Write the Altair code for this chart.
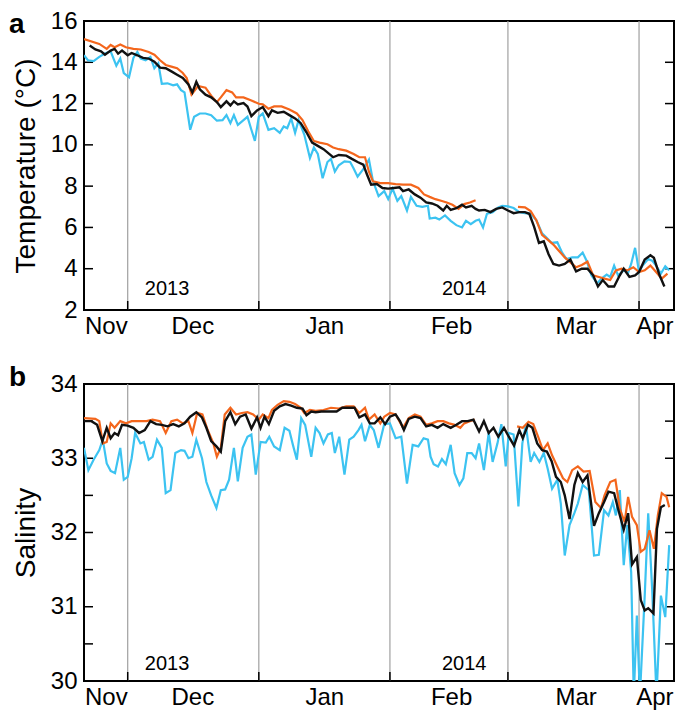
import altair as alt
import pandas as pd

# ---------------- data (x = day index of the record, months as drawn) ----------------
MONTH_NAMES = ["Nov", "Dec", "Jan", "Feb", "Mar", "Apr"]
MONTH_BOUNDS = [10, 40, 70, 97, 127]
MONTH_CENTERS = [5, 24.8, 55, 84, 112.5, 130.5]
X_DOMAIN = [0, 135]
YEAR_TEXT = ["2013", "2014"]
YEAR_X = [19, 87]

TEMP_LABELS = [2, 4, 6, 8, 10, 12, 14, 16]
TEMP_TICKS = [4, 6, 8, 10, 12, 14]
SAL_LABELS = [30, 31, 32, 33, 34]
SAL_TICKS = [30.5, 31, 31.5, 32, 32.5, 33, 33.5]

# Temperature, cyan series
temp_cyan_day = [0.0, 0.9, 2.2, 3.5, 4.8, 6.1, 7.4, 8.3, 9.1, 10.3,
                 11.3, 12.2, 13.0, 14.1, 15.2, 16.1, 17.0, 17.8, 19.1, 20.4,
                 21.3, 22.2, 23.0, 24.3, 25.2, 26.5, 27.8, 29.1, 30.4, 31.7,
                 32.6, 33.5, 34.3, 35.2, 36.5, 37.4, 38.3, 39.1, 40.0, 40.9,
                 42.2, 43.5, 44.8, 45.7, 46.5, 47.4, 48.3, 49.1, 50.4, 51.7,
                 52.6, 53.5, 54.6, 55.7, 56.5, 57.4, 58.3, 59.6, 60.9, 61.7,
                 62.6, 63.9, 65.2, 66.1, 67.4, 68.7, 69.6, 70.6, 71.7, 72.6,
                 73.9, 74.8, 76.1, 77.4, 78.7, 79.1, 80.4, 81.3, 82.6, 83.9,
                 85.2, 86.5, 87.4, 88.5, 89.6, 90.4, 91.3, 92.2, 93.5, 94.8,
                 95.7, 97.0, 98.3, 99.6, 100.9, 102.2, 103.5, 104.8, 105.7, 107.0,
                 108.3, 109.4, 110.4, 111.7, 113.0, 114.1, 115.0, 116.1, 117.4, 118.4,
                 119.6, 120.4, 121.3, 122.2, 123.5, 124.5, 125.2, 126.1, 127.0, 127.8,
                 129.1, 130.0, 130.9, 132.0, 133.0, 133.9]
temp_cyan_val = [14.34, 14.10, 14.06, 14.26, 14.42, 14.53, 13.84, 14.18, 13.48, 13.27,
                 14.21, 14.50, 14.18, 14.10, 14.26, 13.71, 13.95, 12.96, 12.98, 12.88,
                 12.93, 12.65, 12.54, 10.73, 11.36, 11.52, 11.52, 11.44, 11.17, 11.20,
                 11.44, 11.05, 11.44, 10.97, 11.20, 11.36, 10.73, 10.19, 11.36, 11.52,
                 10.73, 10.81, 10.58, 10.89, 10.81, 11.28, 10.58, 11.20, 10.50, 9.36,
                 9.87, 9.56, 8.38, 9.17, 9.32, 8.70, 9.01, 9.20, 9.17, 8.85,
                 8.46, 8.82, 9.29, 8.26, 7.52, 7.76, 7.37, 7.88, 7.29, 7.52,
                 6.82, 7.48, 7.05, 7.00, 7.05, 6.43, 6.47, 6.38, 6.58, 6.32,
                 6.11, 6.00, 6.32, 6.16, 6.32, 6.38, 6.00, 6.66, 6.74, 6.97,
                 7.05, 7.02, 6.94, 6.74, 6.69, 6.66, 6.35, 5.72, 5.53, 5.25,
                 5.28, 4.78, 4.47, 4.55, 4.55, 4.78, 4.39, 3.68, 3.29, 3.52,
                 3.71, 3.60, 4.15, 3.68, 3.92, 3.81, 4.23, 5.01, 3.84, 4.15,
                 4.47, 4.39, 4.15, 3.76, 4.12, 3.92]

# Temperature, orange series (None = gap in record)
temp_orange_day = [0.0, 3.5, 5.2, 6.1, 7.0, 8.3, 9.6, 11.3, 13.0, 14.8,
                   16.1, 17.4, 18.7, 20.0, 21.3, 22.6, 23.5, 24.6, 26.1, 27.8,
                   29.1, 30.4, 31.3, 32.6, 33.9, 34.8, 36.5, 38.3, 40.0, 40.9,
                   42.2, 43.5, 45.2, 47.0, 48.7, 50.0, 51.3, 52.6, 53.9, 55.7,
                   57.0, 58.3, 60.0, 61.7, 63.0, 64.3, 65.2, 66.1, 67.8, 69.6,
                   71.3, 73.0, 74.8, 76.5, 77.8, 79.1, 80.4, 81.7, 83.0, 84.3,
                   85.7, 87.0, 88.3, 89.6, None, 99.3, 100.9, 102.2, 103.5, 104.8,
                   106.1, 107.4, 108.7, 110.0, 111.3, 112.6, 113.9, 115.2, 116.5, 117.8,
                   119.1, 120.4, 121.7, 123.0, 124.3, 125.7, 127.0, 128.3, 129.6, 130.9,
                   132.2, 133.5]
temp_orange_val = [15.12, 14.89, 14.65, 14.84, 14.73, 14.86, 14.73, 14.65, 14.62, 14.50,
                   14.37, 14.10, 13.87, 13.79, 13.71, 13.48, 13.24, 12.43, 12.85, 12.77,
                   12.38, 12.07, 12.30, 12.65, 12.54, 12.30, 12.30, 12.15, 11.99, 11.96,
                   11.75, 11.86, 11.86, 11.71, 11.52, 11.20, 10.66, 10.19, 10.11, 10.03,
                   9.87, 9.79, 9.72, 9.56, 9.40, 9.40, 8.70, 8.23, 8.15, 8.15,
                   8.10, 8.07, 8.07, 7.91, 7.60, 7.48, 7.37, 7.29, 7.21, 7.10,
                   6.90, 7.13, 7.21, 7.32, None, 7.00, 6.97, 6.79, 6.35, 5.64,
                   5.41, 5.17, 4.86, 4.55, 4.31, 4.07, 4.18, 4.34, 3.68, 3.60,
                   3.52, 3.45, 3.92, 4.00, 3.92, 4.07, 3.84, 3.92, 4.15, 3.84,
                   3.52, 3.76]

# Temperature, black series
temp_black_day = [1.3, 2.6, 3.9, 4.8, 6.1, 7.0, 7.8, 8.7, 10.0, 10.9,
                  12.2, 13.5, 14.8, 16.1, 17.4, 18.7, 20.0, 21.3, 22.6, 23.9,
                  24.8, 25.7, 26.5, 27.8, 29.1, 30.4, 31.3, 32.6, 33.5, 34.3,
                  35.2, 36.5, 37.4, 38.3, 39.6, 40.9, 42.2, 43.0, 44.3, 45.7,
                  47.0, 48.3, 49.6, 50.9, 52.2, 53.5, 54.8, 56.1, 57.0, 58.3,
                  60.0, 61.3, 62.6, 63.9, 64.8, 65.7, 67.0, 68.3, 69.6, 70.9,
                  72.2, 73.0, 74.3, 75.7, 77.0, 78.3, 79.6, 80.9, 82.2, 83.0,
                  83.9, 85.2, 86.5, 87.4, 88.7, 89.6, 90.4, 91.7, 93.0, 94.3,
                  95.7, 97.0, 98.3, 99.6, 100.9, 101.9, 103.0, 104.1, 105.2, 106.3,
                  107.4, 108.7, 110.0, 111.3, 112.6, 113.9, 115.2, 116.5, 117.6, 118.7,
                  120.0, 121.3, 122.6, 123.5, 124.8, 126.1, 127.0, 128.3, 129.6, 130.4,
                  131.7, 132.8]
temp_black_val = [14.81, 14.62, 14.53, 14.37, 14.57, 14.65, 14.42, 14.57, 14.34, 14.45,
                  14.34, 14.21, 14.18, 14.03, 13.74, 13.71, 13.56, 13.40, 13.24, 12.93,
                  12.54, 13.05, 12.69, 12.43, 12.30, 12.07, 11.83, 12.11, 11.91, 12.11,
                  11.96, 12.02, 11.86, 11.39, 11.67, 11.83, 11.39, 11.67, 11.55, 11.60,
                  11.44, 11.28, 11.05, 10.61, 10.11, 9.95, 9.79, 9.56, 9.40, 9.51,
                  9.48, 9.32, 9.17, 9.04, 8.54, 8.07, 8.10, 7.91, 7.88, 7.91,
                  7.94, 7.76, 7.84, 7.60, 7.44, 7.21, 7.16, 7.05, 6.82, 7.05,
                  6.85, 6.93, 7.10, 6.97, 7.05, 6.90, 6.82, 6.85, 6.74, 6.90,
                  6.97, 6.82, 6.69, 6.74, 6.74, 6.66, 6.03, 5.25, 5.33, 4.70,
                  4.23, 4.15, 4.23, 4.44, 3.87, 4.00, 4.00, 3.68, 3.14, 3.45,
                  3.14, 3.14, 3.68, 4.00, 3.60, 3.68, 3.84, 4.45, 4.65, 4.53,
                  3.68, 3.14]

# Salinity, cyan series
sal_cyan_day = [0.0, 1.0, 2.2, 3.5, 4.3, 5.2, 6.1, 7.1, 8.3, 9.1,
                10.0, 10.9, 11.7, 12.9, 13.7, 14.8, 15.7, 16.7, 17.8, 18.7,
                19.8, 20.9, 22.2, 23.0, 23.9, 24.8, 25.7, 27.0, 28.0, 29.1,
                30.3, 31.3, 32.3, 33.2, 34.3, 35.2, 36.3, 37.4, 38.3, 39.3,
                40.4, 41.6, 42.4, 43.5, 44.8, 45.9, 47.0, 47.8, 48.7, 49.7,
                50.6, 52.0, 53.0, 53.9, 54.8, 55.8, 56.7, 57.4, 58.4, 59.6,
                60.7, 61.7, 62.8, 63.5, 64.3, 65.4, 66.3, 67.4, 68.7, 70.0,
                71.3, 72.6, 73.9, 75.2, 76.5, 77.7, 78.7, 79.3, 80.0, 81.0,
                81.9, 82.8, 83.9, 84.8, 85.9, 86.8, 87.7, 88.7, 89.6, 90.4,
                91.5, 92.6, 93.5, 94.6, 95.5, 96.5, 97.2, 98.3, 99.4, 100.3,
                101.1, 102.2, 103.0, 104.2, 105.2, 106.1, 107.1, 108.3, 109.1, 110.0,
                111.1, 112.2, 113.0, 114.1, 115.5, 116.7, 117.8, 119.0, 120.0, 121.0,
                121.7, 122.6, 123.5, 124.3, 125.2, 125.8, 126.5, 127.2, 128.3, 129.1,
                130.0, 131.0, 132.0, 133.0, 133.9]
sal_cyan_val = [33.14, 32.84, 32.98, 33.11, 33.25, 32.93, 32.83, 32.80, 33.14, 32.71,
                32.75, 33.00, 33.34, 33.20, 33.22, 32.98, 33.02, 33.25, 33.14, 32.53,
                32.57, 33.07, 33.11, 33.10, 33.00, 33.02, 33.25, 33.00, 32.68, 32.50,
                32.33, 32.57, 32.58, 32.71, 33.14, 32.69, 33.14, 33.29, 33.32, 32.78,
                33.22, 33.21, 33.29, 33.16, 33.11, 33.41, 33.37, 33.18, 32.98, 33.54,
                33.45, 33.02, 33.41, 33.34, 33.20, 33.32, 33.34, 33.07, 33.29, 32.78,
                33.25, 33.29, 33.38, 33.45, 33.23, 33.45, 33.38, 33.14, 33.46, 33.47,
                33.27, 33.29, 32.66, 33.18, 33.16, 33.27, 33.25, 33.02, 32.92, 32.89,
                32.99, 32.92, 33.18, 32.80, 32.64, 32.73, 33.07, 33.07, 33.00, 33.20,
                32.84, 33.34, 32.95, 33.20, 33.46, 32.89, 33.34, 33.32, 32.35, 33.20,
                33.45, 32.95, 33.07, 32.95, 33.07, 32.86, 32.59, 32.71, 32.39, 31.69,
                32.10, 32.26, 32.39, 32.64, 32.57, 31.69, 31.70, 32.30, 32.23, 32.41,
                32.23, 32.57, 31.56, 32.10, 31.47, 29.80, 30.88, 29.80, 31.15, 32.26,
                31.24, 29.80, 31.15, 30.86, 31.83]

# Salinity, orange series (None = gap in record)
sal_orange_day = [0.0, 2.6, 3.5, 4.3, 5.2, 6.1, 7.0, 8.3, 9.6, 10.9,
                  12.6, 14.3, 15.7, 17.4, 18.7, 20.0, 21.3, 22.6, 23.9, 24.8,
                  25.9, 27.1, 28.3, 29.6, 30.4, 31.3, 32.2, 33.5, 34.8, 36.1,
                  37.4, 38.7, 40.0, 40.9, 42.2, 43.0, 44.3, 45.7, 47.0, 48.3,
                  49.6, 50.4, 51.7, 53.0, 54.8, 56.5, 58.3, 60.0, 61.7, 63.0,
                  64.3, 65.2, 66.5, 67.8, 68.7, 70.0, 71.3, 73.0, 74.3, 75.7,
                  77.0, 78.3, 79.6, 80.9, 82.2, 83.5, 84.8, 86.1, 87.0, 88.3,
                  89.4, None, 99.1, 100.4, 101.7, 102.8, 103.9, 105.0, 106.1, 107.1,
                  108.3, 109.6, 110.6, 111.7, 113.0, 114.3, 115.7, 117.0, 118.3, 119.1,
                  120.4, 121.6, 122.6, 123.7, 124.5, 125.4, 126.5, 127.4, 128.3, 129.4,
                  130.4, 131.3, 132.2, 133.3, 133.9]
sal_orange_val = [33.54, 33.53, 33.50, 33.20, 33.22, 33.47, 33.41, 33.50, 33.47, 33.50,
                  33.50, 33.50, 33.52, 33.50, 33.34, 33.50, 33.52, 33.47, 33.50, 33.34,
                  33.61, 33.59, 33.38, 33.20, 33.02, 33.14, 33.59, 33.68, 33.59, 33.61,
                  33.62, 33.59, 33.52, 33.59, 33.54, 33.65, 33.72, 33.77, 33.76, 33.73,
                  33.68, 33.61, 33.65, 33.64, 33.65, 33.68, 33.67, 33.70, 33.70, 33.61,
                  33.68, 33.52, 33.59, 33.47, 33.56, 33.61, 33.59, 33.41, 33.54, 33.59,
                  33.56, 33.45, 33.47, 33.50, 33.50, 33.47, 33.45, 33.41, 33.47, 33.50,
                  33.52, None, 33.43, 33.41, 33.49, 33.46, 33.29, 33.11, 33.20, 33.04,
                  32.89, 32.73, 32.68, 32.84, 32.89, 32.82, 32.83, 32.41, 32.33, 32.50,
                  32.68, 32.71, 32.32, 32.14, 32.48, 32.21, 32.10, 31.74, 31.78, 32.03,
                  31.78, 32.23, 32.53, 32.48, 32.34]

# Salinity, black series
sal_black_day = [0.0, 1.7, 3.0, 4.2, 5.2, 6.1, 7.0, 7.8, 8.7, 10.0,
                 11.3, 12.6, 13.9, 15.2, 16.5, 17.8, 19.1, 20.4, 21.7, 23.0,
                 24.3, 25.7, 27.0, 28.0, 29.1, 30.3, 31.3, 32.3, 33.5, 34.6,
                 35.7, 37.0, 38.3, 39.6, 40.4, 41.3, 42.3, 43.5, 44.8, 46.1,
                 47.4, 48.7, 50.0, 50.9, 52.0, 53.0, 54.3, 56.1, 57.8, 59.1,
                 60.4, 61.9, 63.0, 64.3, 65.4, 66.5, 67.8, 68.9, 70.0, 71.3,
                 72.3, 73.2, 74.3, 75.7, 77.0, 78.3, 79.6, 80.9, 82.2, 83.9,
                 85.2, 86.5, 87.8, 89.1, 90.4, 91.5, 92.6, 93.7, 94.8, 96.1,
                 97.2, 98.4, 99.6, 100.4, 101.6, 102.6, 103.7, 104.8, 105.9, 107.0,
                 108.0, 109.1, 110.0, 111.1, 112.2, 113.0, 114.1, 115.2, 116.7, 117.8,
                 119.0, 120.0, 121.3, 122.2, 123.5, 124.5, 125.4, 126.5, 127.4, 128.3,
                 129.1, 130.3, 131.1, 132.0, 132.9]
sal_black_val = [33.50, 33.50, 33.45, 33.23, 33.41, 33.27, 33.34, 33.31, 33.45, 33.44,
                 33.41, 33.34, 33.38, 33.50, 33.46, 33.45, 33.43, 33.46, 33.43, 33.47,
                 33.56, 33.62, 33.55, 33.41, 33.23, 33.16, 33.09, 33.50, 33.62, 33.46,
                 33.56, 33.59, 33.40, 33.55, 33.41, 33.56, 33.46, 33.64, 33.70, 33.73,
                 33.71, 33.68, 33.67, 33.58, 33.63, 33.62, 33.63, 33.63, 33.63, 33.68,
                 33.68, 33.68, 33.55, 33.59, 33.47, 33.47, 33.55, 33.46, 33.56, 33.59,
                 33.50, 33.38, 33.53, 33.56, 33.54, 33.43, 33.45, 33.41, 33.46, 33.41,
                 33.45, 33.50, 33.50, 33.52, 33.36, 33.50, 33.34, 33.41, 33.29, 33.41,
                 33.29, 33.17, 33.38, 33.27, 33.45, 33.41, 33.20, 33.11, 33.09, 32.96,
                 32.75, 32.68, 32.50, 32.18, 32.64, 32.80, 32.68, 32.77, 32.09, 32.26,
                 32.41, 32.55, 32.53, 32.32, 32.04, 32.26, 31.57, 31.67, 31.09, 30.95,
                 30.98, 30.91, 32.05, 32.34, 32.37]

CYAN = "#3cc3f1"
ORANGE = "#f4661c"
BLACK = "#111111"
FONT = "Liberation Sans"
W = 590
H_TOP, H_BOTTOM = 289, 297


def make_df(days, vals):
    assert len(days) == len(vals)
    rows, seg = [], 0
    for d, v in zip(days, vals):
        if d is None or v is None:
            seg += 1
            continue
        rows.append({"x": d, "y": v, "seg": seg})
    return pd.DataFrame(rows)


label_expr = f"{MONTH_NAMES}[indexof({MONTH_CENTERS}, datum.value)]"


def panel(letter, letter_y, y_title, y_domain, y_labels, y_ticks, series, year_off, H):
    xs = alt.Scale(domain=X_DOMAIN, nice=False, zero=False)
    ys = alt.Scale(domain=y_domain, nice=False, zero=False)
    xax = alt.Axis(values=MONTH_CENTERS, labelExpr=label_expr, title=None,
                   ticks=False, tickSize=0, domain=False, grid=False,
                   labelFontSize=24, labelPadding=4, labelFlush=False,
                   labelOverlap=False, labelColor="black", labelFont=FONT)
    yax = alt.Axis(values=y_labels, title=y_title, ticks=False, tickSize=0,
                   domain=False, grid=False, labelFontSize=24, labelPadding=7,
                   labelFlush=False, labelOverlap=False, labelColor="black",
                   labelFont=FONT, titleFont=FONT, titleFontSize=28,
                   titleFontWeight="normal", titleColor="black", titlePadding=10)
    X = alt.X("x:Q", scale=xs, axis=xax)
    Y = alt.Y("y:Q", scale=ys, axis=yax)

    grid = alt.Chart(pd.DataFrame({"x": MONTH_BOUNDS})).mark_rule(
        color="#a0a0a0", strokeWidth=1.2).encode(x=X)
    xticks = alt.Chart(pd.DataFrame({"x": MONTH_BOUNDS})).mark_rule(
        color="black", strokeWidth=1.5).encode(x=X, y=alt.value(H), y2=alt.value(H - 9))
    tick_df = pd.DataFrame({"y": y_ticks})
    lticks = alt.Chart(tick_df).mark_rule(color="black", strokeWidth=1.5).encode(
        y=Y, x=alt.value(0), x2=alt.value(9))
    rticks = alt.Chart(tick_df).mark_rule(color="black", strokeWidth=1.5).encode(
        y=Y, x=alt.value(W - 9), x2=alt.value(W))

    layers = [grid, xticks, lticks, rticks]
    for df, color, sw in series:
        layers.append(alt.Chart(df).mark_line(color=color, strokeWidth=sw, clip=True)
                      .encode(x=X, y=Y, detail="seg:N"))
    years = alt.Chart(pd.DataFrame({"x": YEAR_X, "t": YEAR_TEXT})).mark_text(
        fontSize=20, font=FONT, baseline="middle", color="black").encode(
        x=X, y=alt.value(H - year_off), text="t:N")
    let = alt.Chart(pd.DataFrame({"t": [letter]})).mark_text(
        fontSize=28, font=FONT, fontWeight="bold", align="left",
        baseline="alphabetic", color="black").encode(
        x=alt.value(-75), y=alt.value(letter_y), text="t:N")
    layers += [years, let]
    return alt.layer(*layers).properties(width=W, height=H)


top = panel("a", 12, "Temperature (°C)", [2, 16], TEMP_LABELS, TEMP_TICKS, [
    (make_df(temp_cyan_day, temp_cyan_val), CYAN, 2.2),
    (make_df(temp_orange_day, temp_orange_val), ORANGE, 2.2),
    (make_df(temp_black_day, temp_black_val), BLACK, 2.4),
], 21, H_TOP)

bottom = panel("b", 2, "Salinity", [30, 34], SAL_LABELS, SAL_TICKS, [
    (make_df(sal_cyan_day, sal_cyan_val), CYAN, 2.2),
    (make_df(sal_orange_day, sal_orange_val), ORANGE, 2.2),
    (make_df(sal_black_day, sal_black_val), BLACK, 2.4),
], 17, H_BOTTOM)

chart = alt.vconcat(top, bottom, spacing=24).properties(
    padding={"left": 0, "top": 0, "right": 0, "bottom": 0}
).configure(font=FONT).configure_view(stroke="black", strokeWidth=2)

chart.save("out.html", embed_options={"renderer": "svg", "actions": False})
